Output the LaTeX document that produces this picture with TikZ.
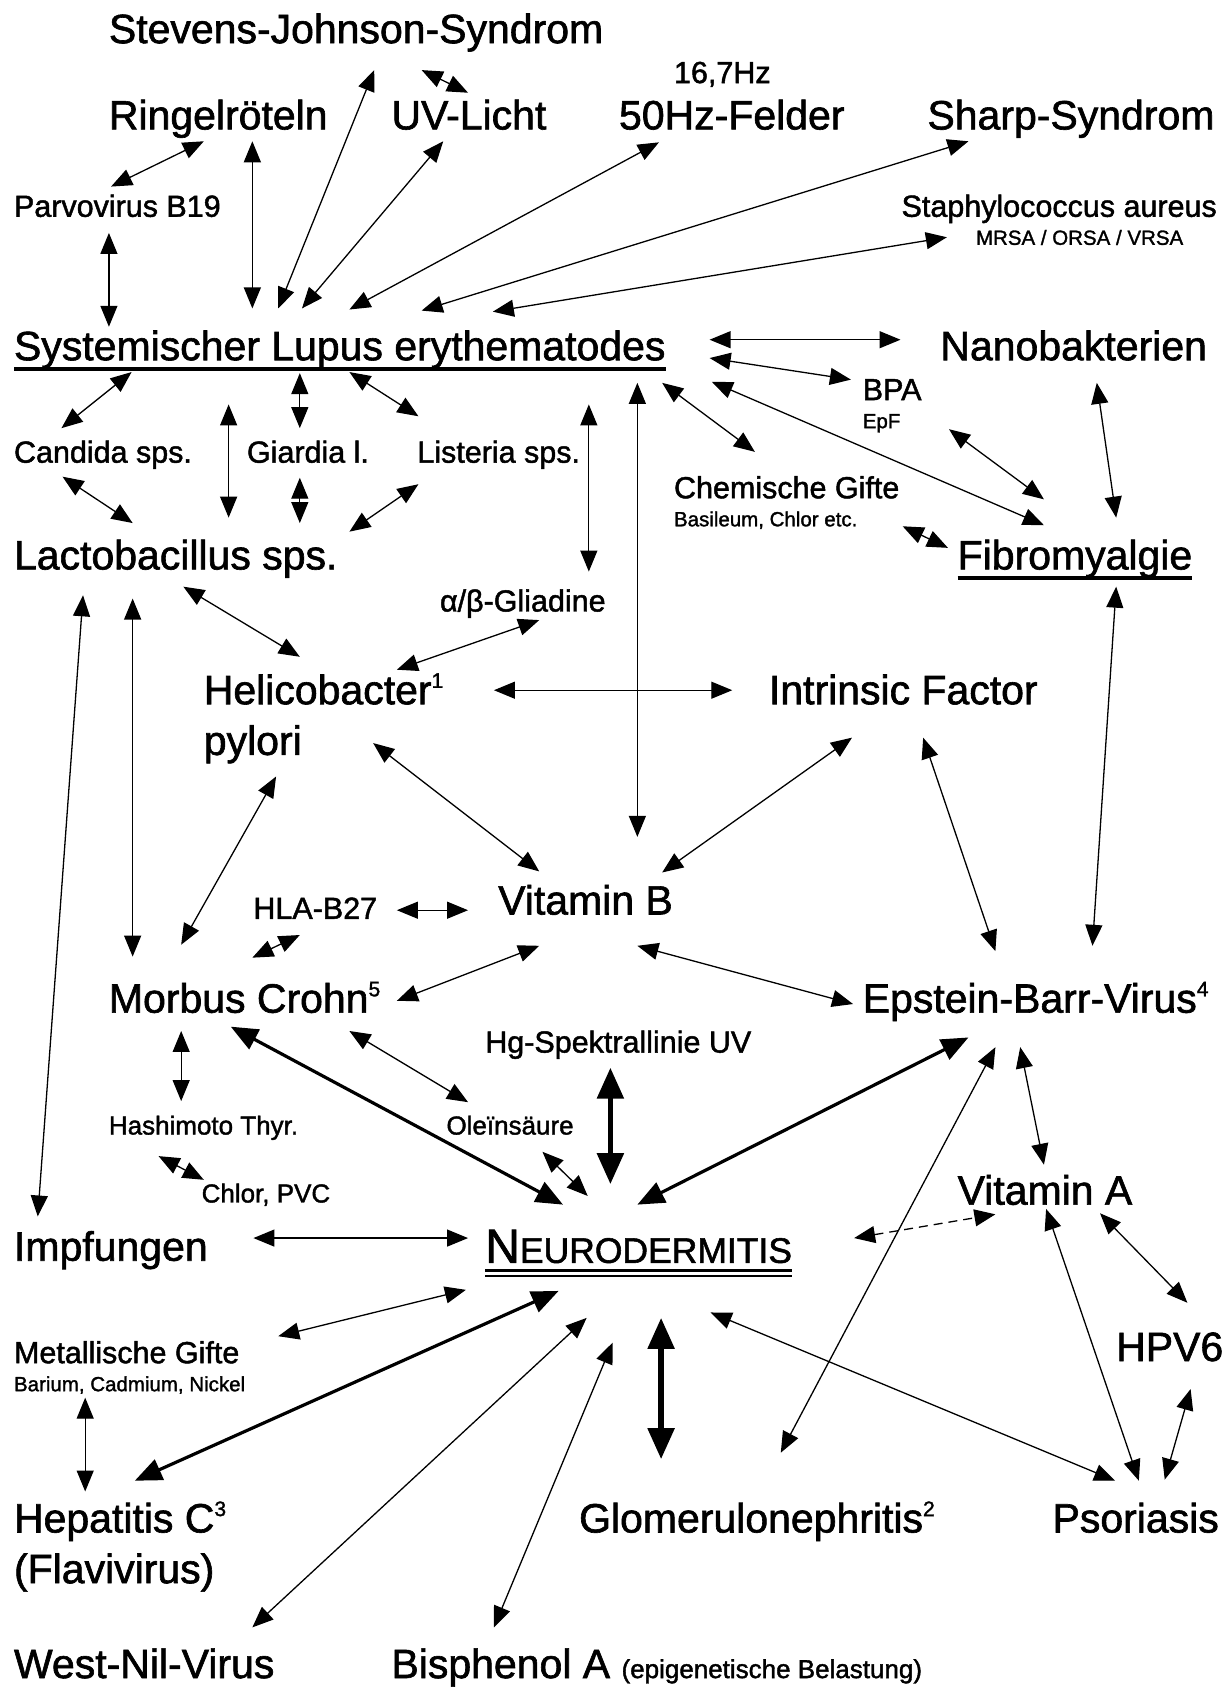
\documentclass[tikz,border=0pt]{standalone}
\usepackage{fontspec}
\setmainfont{Liberation Sans}[FakeBold=1.5]
\usetikzlibrary{arrows.meta}
\newcommand\sups[1]{\raisebox{0.4em}{\fontsize{21}{21}\selectfont #1}}
\begin{document}
\begin{tikzpicture}[x=1.0789pt,y=-1.0789pt,
  lab/.style={anchor=base west, inner sep=0pt, outer sep=0pt},
  tL/.style={lab, font=\fontsize{41}{44}\selectfont},
  tM/.style={lab, font=\fontsize{30.5}{34}\selectfont},
  tH/.style={lab, font=\fontsize{26}{30}\selectfont},
  tS/.style={lab, font=\fontsize{20.5}{24}\selectfont},
  conn/.style={line width=1.3pt, {Triangle[length=21pt,width=17pt]}-{Triangle[length=21pt,width=17pt]}},
  connB/.style={line width=3.2pt, {Triangle[length=27pt,width=22pt]}-{Triangle[length=27pt,width=22pt]}},
  connX/.style={line width=5.5pt, {Triangle[length=31pt,width=26pt]}-{Triangle[length=31pt,width=26pt]}},
  connD/.style={conn, dash pattern=on 9pt off 6pt},
  uline/.style={line width=3.5pt}]
\useasboundingbox (0,0) rectangle (1141,1568);
\fill[white] (0,0) rectangle (1141,1568);

% nodes
\node[tL] (sjs) at (101,40) {Stevens-Johnson-Syndrom};
\node[tL] (ring) at (101,120) {Ringelröteln};
\node[tL] (uv) at (363,120) {UV-Licht};
\node[tM] (hzs) at (625,77) {16,7Hz};
\node[tL] (hzf) at (574,120) {50Hz-Felder};
\node[tL] (sharp) at (860,120) {Sharp-Syndrom};
\node[tM] (parvo) at (13,201) {Parvovirus B19};
\node[tM] (staph) at (836,201) {Staphylococcus aureus};
\node[tS] (mrsa) at (905,227) {MRSA / ORSA / VRSA};
\node[tL] (sle) at (13,334) {Systemischer Lupus erythematodes};
\node[tL] (nano) at (872,334) {Nanobakterien};
\node[tM] (bpa) at (800,371) {BPA};
\node[tS] (epf) at (800,397) {EpF};
\node[tM] (candida) at (13,429) {Candida sps.};
\node[tM] (giardia) at (229,429) {Giardia l.};
\node[tM] (listeria) at (387,429) {Listeria sps.};
\node[tM] (chem) at (625,462) {Chemische Gifte};
\node[tS] (basil) at (625,488) {Basileum, Chlor etc.};
\node[tL] (lacto) at (13,528) {Lactobacillus sps.};
\node[tL] (fibro) at (888,528) {Fibromyalgie};
\node[tM] (glia) at (408,567) {α/β-Gliadine};
\node[tL] (heli) at (189,653) {Helicobacter\sups{1}};
\node[tL] (pylori) at (189,700) {pylori};
\node[tL] (intr) at (713,653) {Intrinsic Factor};
\node[tL] (vitb) at (462,848) {Vitamin B};
\node[tM] (hla) at (235,852) {HLA-B27};
\node[tL] (crohn) at (101,939) {Morbus Crohn\sups{5}};
\node[tL] (ebv) at (800,939) {Epstein-Barr-Virus\sups{4}};
\node[tM] (hg) at (450,976) {Hg-Spektrallinie UV};
\node[tH] (hashi) at (101,1052) {Hashimoto Thyr.};
\node[tH] (olein) at (414,1052) {Oleïnsäure};
\node[tH] (chlor) at (187,1115) {Chlor, PVC};
\node[tL] (vita) at (888,1117) {Vitamin A};
\node[tL] (impf) at (13,1169) {Impfungen};
\node[lab] (neuro) at (450,1171) {{\fontsize{48}{48}\selectfont N}{\fontsize{35.5}{36}\selectfont EURODERMITIS}};
\node[tL] (hpv) at (1035,1262) {HPV6};
\node[tM] (metal) at (13,1264) {Metallische Gifte};
\node[tS] (barium) at (13,1290) {Barium, Cadmium, Nickel};
\node[tL] (hep) at (13,1421) {Hepatitis C\sups{3}};
\node[tL] (flavi) at (13,1468) {(Flavivirus)};
\node[tL] (glom) at (537,1421) {Glomerulonephritis\sups{2}};
\node[tL] (psor) at (976,1421) {Psoriasis};
\node[tL] (west) at (13,1556) {West-Nil-Virus};
\node[tL] (bisph) at (363,1556) {Bisphenol A {\fontsize{26}{30}\selectfont(epigenetische Belastung)}};

% underlines
\draw[uline] ([shift={(0,8)}]sle.base west) -- ([shift={(0,8)}]sle.base east);
\draw[uline] ([shift={(0,8)}]fibro.base west) -- ([shift={(0,8)}]fibro.base east);
\draw[line width=3pt] ([shift={(0,7)}]neuro.base west) -- ([shift={(0,7)}]neuro.base east);
\draw[line width=2pt] ([shift={(0,12)}]neuro.base west) -- ([shift={(0,12)}]neuro.base east);

% connectors
\draw[conn] ([shift={(90,-28)}]parvo.base west) -- ([shift={(88,11)}]ring.base west);
\draw[conn] ([shift={(88,15)}]parvo.base west) -- ([shift={(88,-31)}]sle.base west);
\draw[conn] ([shift={(133,11)}]ring.base west) -- ([shift={(221,-48)}]sle.base west);
\draw[conn] ([shift={(245,-48)}]sle.base west) -- ([shift={(246,25)}]sjs.base west);
\draw[conn] ([shift={(290,25)}]sjs.base west) -- ([shift={(71,-34)}]uv.base west);
\draw[conn] ([shift={(267,-48)}]sle.base west) -- ([shift={(48,11)}]uv.base west);
\draw[conn] ([shift={(311,-47)}]sle.base west) -- ([shift={(37,12)}]hzf.base west);
\draw[conn] ([shift={(378,-46)}]sle.base west) -- ([shift={(38,11)}]sharp.base west);
\draw[conn] ([shift={(444,-45)}]sle.base west) -- ([shift={(42,19)}]staph.base west);
\draw[conn] ([shift={(645,-19)}]sle.base west) -- ([shift={(-37,-19)}]nano.base west);
\draw[conn] ([shift={(645,-2)}]sle.base west) -- ([shift={(-11,-19)}]bpa.base west);
\draw[conn] ([shift={(647,20)}]sle.base west) -- ([shift={(80,-41)}]fibro.base west);
\draw[conn] ([shift={(601,21)}]sle.base west) -- ([shift={(75,-43)}]chem.base west);
\draw[conn] ([shift={(578,21)}]sle.base west) -- ([shift={(129,-72)}]vitb.base west);
\draw[conn] ([shift={(533,41)}]sle.base west) -- ([shift={(138,-37)}]glia.base west);
\draw[conn] ([shift={(80,27)}]bpa.base west) -- ([shift={(80,-65)}]fibro.base west);
\draw[conn] ([shift={(145,21)}]nano.base west) -- ([shift={(147,-48)}]fibro.base west);
\draw[conn] ([shift={(212,0)}]basil.base west) -- ([shift={(-9,-20)}]fibro.base west);
\draw[conn] ([shift={(147,16)}]fibro.base west) -- ([shift={(213,-62)}]ebv.base west);
\draw[conn] ([shift={(44,-32)}]candida.base west) -- ([shift={(109,11)}]sle.base west);
\draw[conn] ([shift={(265,12)}]sle.base west) -- ([shift={(49,-32)}]giardia.base west);
\draw[conn] ([shift={(311,11)}]sle.base west) -- ([shift={(1,-43)}]listeria.base west);
\draw[conn] ([shift={(199,41)}]sle.base west) -- ([shift={(199,-48)}]lacto.base west);
\draw[conn] ([shift={(45,13)}]candida.base west) -- ([shift={(110,-43)}]lacto.base west);
\draw[conn] ([shift={(49,14)}]giardia.base west) -- ([shift={(265,-43)}]lacto.base west);
\draw[conn] ([shift={(1,20)}]listeria.base west) -- ([shift={(311,-35)}]lacto.base west);
\draw[conn] ([shift={(157,16)}]lacto.base west) -- ([shift={(89,-44)}]heli.base west);
\draw[conn] ([shift={(179,-32)}]heli.base west) -- ([shift={(92,8)}]glia.base west);
\draw[conn] ([shift={(269,-13)}]heli.base west) -- ([shift={(-34,-13)}]intr.base west);
\draw[conn] ([shift={(64,24)}]lacto.base west) -- ([shift={(22,-41)}]impf.base west);
\draw[conn] ([shift={(110,27)}]lacto.base west) -- ([shift={(22,-52)}]crohn.base west);
\draw[conn] ([shift={(67,20)}]pylori.base west) -- ([shift={(67,-63)}]crohn.base west);
\draw[conn] ([shift={(157,-11)}]pylori.base west) -- ([shift={(38,-40)}]vitb.base west);
\draw[conn] ([shift={(152,-39)}]vitb.base west) -- ([shift={(77,31)}]intr.base west);
\draw[conn] ([shift={(143,31)}]intr.base west) -- ([shift={(123,-57)}]ebv.base west);
\draw[conn] ([shift={(133,-8)}]hla.base west) -- ([shift={(-28,-4)}]vitb.base west);
\draw[conn] ([shift={(133,-51)}]crohn.base west) -- ([shift={(43,15)}]hla.base west);
\draw[conn] ([shift={(267,-11)}]crohn.base west) -- ([shift={(38,29)}]vitb.base west);
\draw[conn] ([shift={(129,29)}]vitb.base west) -- ([shift={(-9,-8)}]ebv.base west);
\draw[conn] ([shift={(67,17)}]crohn.base west) -- ([shift={(67,-31)}]hashi.base west);
\draw[conn] ([shift={(46,20)}]hashi.base west) -- ([shift={(2,-21)}]chlor.base west);
\draw[connB] ([shift={(113,13)}]crohn.base west) -- ([shift={(72,-54)}]neuro.base west);
\draw[conn] ([shift={(223,17)}]crohn.base west) -- ([shift={(20,-30)}]olein.base west);
\draw[conn] ([shift={(89,16)}]olein.base west) -- ([shift={(95,-62)}]neuro.base west);
\draw[connX] ([shift={(116,14)}]hg.base west) -- ([shift={(116,-73)}]neuro.base west);
\draw[connB] ([shift={(98,23)}]ebv.base west) -- ([shift={(141,-54)}]neuro.base west);
\draw[conn] ([shift={(146,32)}]ebv.base west) -- ([shift={(80,-37)}]vita.base west);
\draw[conn] ([shift={(123,32)}]ebv.base west) -- ([shift={(187,-74)}]glom.base west);
\draw[conn] ([shift={(222,-21)}]impf.base west) -- ([shift={(-16,-23)}]neuro.base west);
\draw[connD] ([shift={(342,-23)}]neuro.base west) -- ([shift={(35,9)}]vita.base west);
\draw[conn] ([shift={(82,4)}]vita.base west) -- ([shift={(80,-48)}]psor.base west);
\draw[conn] ([shift={(132,8)}]vita.base west) -- ([shift={(66,-54)}]hpv.base west);
\draw[conn] ([shift={(69,26)}]hpv.base west) -- ([shift={(104,-49)}]psor.base west);
\draw[conn] ([shift={(209,46)}]neuro.base west) -- ([shift={(58,-48)}]psor.base west);
\draw[connX] ([shift={(163,51)}]neuro.base west) -- ([shift={(76,-68)}]glom.base west);
\draw[conn] ([shift={(-18,25)}]neuro.base west) -- ([shift={(245,-25)}]metal.base west);
\draw[connB] ([shift={(68,26)}]neuro.base west) -- ([shift={(112,-48)}]hep.base west);
\draw[conn] ([shift={(94,51)}]neuro.base west) -- ([shift={(221,-47)}]west.base west);
\draw[conn] ([shift={(118,74)}]neuro.base west) -- ([shift={(95,-47)}]bisph.base west);
\draw[conn] ([shift={(66,6)}]barium.base west) -- ([shift={(66,-38)}]hep.base west);
\end{tikzpicture}
\end{document}
